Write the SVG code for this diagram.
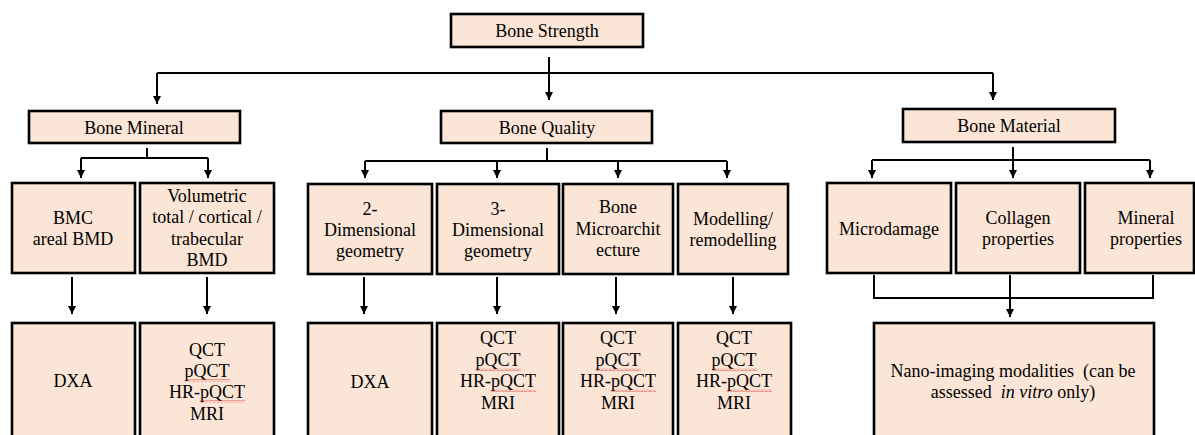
<svg xmlns="http://www.w3.org/2000/svg" width="1195" height="435" viewBox="0 0 1195 435">
<defs>
<marker id="ah" markerUnits="userSpaceOnUse" markerWidth="8" markerHeight="8" refX="8" refY="4" orient="auto">
<path d="M0,0 L8,4 L0,8 z" fill="#000"/>
</marker>
<pattern id="wavy" patternUnits="userSpaceOnUse" width="4" height="3">
<path d="M0,2.5 L2,0.5 L4,2.5" fill="none" stroke="#e0302a" stroke-width="0.8"/>
</pattern>
</defs>
<style>
.box{fill:#FBE5D6;stroke:#000;stroke-width:2.6}
.lbl{font-size:18px;fill:#000;text-anchor:middle}
.conn path{fill:none;stroke:#000;stroke-width:2}
.arr{marker-end:url(#ah)}
.sq{fill:url(#wavy)}
</style>
<rect width="1195" height="435" fill="#fff"/>

<g id="connectors" class="conn">
<path class="arr" d="M549,57 V100"/>
<path d="M157,73 H993"/>
<path class="arr" d="M157,73 V104"/>
<path class="arr" d="M993,73 V100"/>
<path d="M147,148 V158 M81,158 H208"/>
<path class="arr" d="M81,158 V178"/>
<path class="arr" d="M208,158 V178"/>
<path d="M547,148 V161 M365,161 H727"/>
<path class="arr" d="M365,161 V178"/>
<path class="arr" d="M497,161 V178"/>
<path class="arr" d="M618,161 V178"/>
<path class="arr" d="M727,161 V178"/>
<path d="M1013,147 V160 M872,160 H1150"/>
<path class="arr" d="M872,160 V178"/>
<path class="arr" d="M1013,160 V178"/>
<path class="arr" d="M1150,160 V178"/>
<path class="arr" d="M72,277 V314"/>
<path class="arr" d="M207,277 V314"/>
<path class="arr" d="M364,277 V314"/>
<path class="arr" d="M497,277 V314"/>
<path class="arr" d="M616,277 V314"/>
<path class="arr" d="M733,277 V314"/>
<path d="M874,275 V298 H1153 V275"/>
<path class="arr" d="M1010,275 V317"/>
</g>

<g id="nodes" font-family="Liberation Serif" class="lbl">
<g id="bone-strength"><rect class="box" x="451" y="14" width="192" height="33"/><text x="547" y="37">Bone Strength</text></g>
<g id="bone-mineral"><rect class="box" x="29" y="111" width="211" height="32"/><text x="134" y="134">Bone Mineral</text></g>
<g id="bone-quality"><rect class="box" x="441" y="111" width="211" height="32"/><text x="547" y="134">Bone Quality</text></g>
<g id="bone-material"><rect class="box" x="903" y="109" width="212" height="33"/><text x="1009" y="132">Bone Material</text></g>

<g id="bmc"><rect class="box" x="12" y="183" width="123" height="90"/><text x="73" y="224">BMC</text><text x="73" y="245">areal BMD</text></g>
<g id="volumetric"><rect class="box" x="140" y="183" width="134" height="90"/><text x="207" y="202">Volumetric</text><text x="207" y="223">total / cortical /</text><text x="207" y="245">trabecular</text><text x="207" y="266">BMD</text></g>
<g id="geom2d"><rect class="box" x="308" y="184" width="124" height="90"/><text x="370" y="215">2-</text><text x="370" y="236">Dimensional</text><text x="370" y="257">geometry</text></g>
<g id="geom3d"><rect class="box" x="437" y="184" width="122" height="90"/><text x="498" y="215">3-</text><text x="498" y="236">Dimensional</text><text x="498" y="257">geometry</text></g>
<g id="microarch"><rect class="box" x="563" y="184" width="110" height="90"/><text x="618" y="213">Bone</text><text x="618" y="235">Microarchit</text><text x="618" y="256">ecture</text></g>
<g id="modelling"><rect class="box" x="678" y="184" width="110" height="90"/><text x="733" y="225">Modelling/</text><text x="733" y="246">remodelling</text></g>
<g id="microdamage"><rect class="box" x="827" y="183" width="124" height="90"/><text x="889" y="235">Microdamage</text></g>
<g id="collagen"><rect class="box" x="956" y="183" width="124" height="90"/><text x="1018" y="224">Collagen</text><text x="1018" y="245">properties</text></g>
<g id="mineral-props"><rect class="box" x="1085" y="183" width="109" height="90"/><text x="1146" y="224">Mineral</text><text x="1146" y="245">properties</text></g>

<g id="dxa1"><rect class="box" x="12" y="323" width="123" height="130"/><text x="73" y="387">DXA</text></g>
<g id="qct1"><rect class="box" x="140" y="323" width="134" height="130"/><text x="207" y="356">QCT</text><text x="207" y="377">pQCT</text><text x="207" y="398">HR-pQCT</text><text x="207" y="420">MRI</text>
<rect class="sq" x="185" y="379" width="45" height="3"/><rect class="sq" x="200" y="400" width="45" height="3"/></g>
<g id="dxa2"><rect class="box" x="308" y="323" width="124" height="130"/><text x="370" y="388">DXA</text></g>
<g id="qct2"><rect class="box" x="437" y="323" width="122" height="130"/><text x="498" y="344">QCT</text><text x="498" y="366">pQCT</text><text x="498" y="387">HR-pQCT</text><text x="498" y="409">MRI</text>
<rect class="sq" x="476" y="368" width="45" height="3"/><rect class="sq" x="491" y="389" width="45" height="3"/></g>
<g id="qct3"><rect class="box" x="563" y="323" width="110" height="130"/><text x="618" y="344">QCT</text><text x="618" y="366">pQCT</text><text x="618" y="387">HR-pQCT</text><text x="618" y="409">MRI</text>
<rect class="sq" x="596" y="368" width="45" height="3"/><rect class="sq" x="611" y="389" width="45" height="3"/></g>
<g id="qct4"><rect class="box" x="678" y="323" width="113" height="130"/><text x="734" y="344">QCT</text><text x="734" y="366">pQCT</text><text x="734" y="387">HR-pQCT</text><text x="734" y="409">MRI</text>
<rect class="sq" x="712" y="368" width="45" height="3"/><rect class="sq" x="727" y="389" width="45" height="3"/></g>
<g id="nano"><rect class="box" x="874" y="323" width="280" height="130"/><text x="1013" y="377" xml:space="preserve">Nano-imaging modalities  (can be</text><text x="1013" y="398" xml:space="preserve">assessed  <tspan font-style="italic">in vitro</tspan> only)</text></g>
</g>
</svg>
